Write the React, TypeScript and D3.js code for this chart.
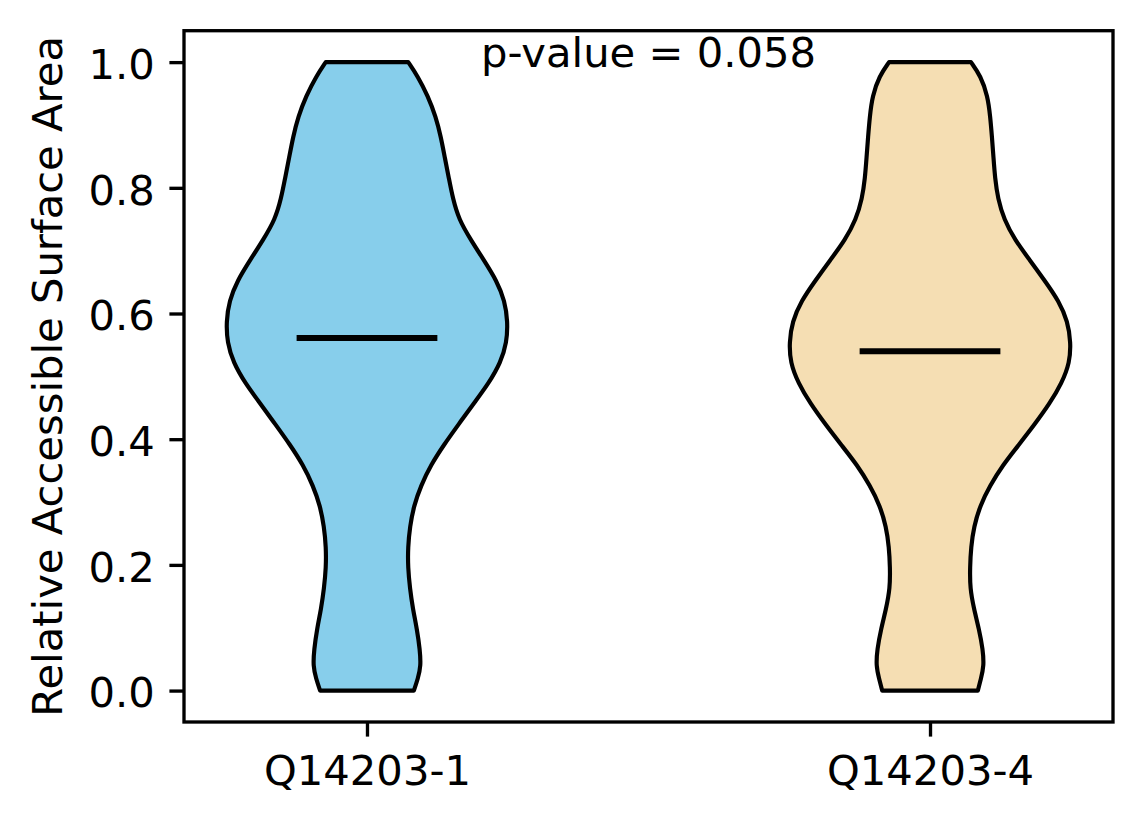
import { useEffect, useRef } from 'react';
import * as d3 from 'd3';

// categorias y posiciones en el eje x
const groups = ['Q14203-1', 'Q14203-4'];
const groupPositions = [1, 2];
const fillColors = ['#87CEEB', '#F5DEB3'];

// niveles de RSA donde se leyó la densidad (de arriba hacia abajo)
const levels = [
  1.0, 0.978, 0.946, 0.913, 0.881, 0.848, 0.815, 0.783, 0.75, 0.717, 0.685,
  0.652, 0.62, 0.587, 0.554, 0.522, 0.489, 0.457, 0.424, 0.391, 0.359, 0.326,
  0.294, 0.261, 0.228, 0.196, 0.163, 0.13, 0.098, 0.065, 0.039, 0.019, 0.0,
];

// densidad relativa (max = 1) de cada violín
const densityQ1 = [
  0.293, 0.359, 0.433, 0.489, 0.525, 0.553, 0.582, 0.61, 0.652, 0.738, 0.83,
  0.922, 0.979, 1.0, 0.993, 0.95, 0.865, 0.759, 0.652, 0.546, 0.454, 0.383,
  0.333, 0.305, 0.291, 0.291, 0.305, 0.326, 0.355, 0.376, 0.383, 0.362, 0.333,
];
const densityQ4 = [
  0.291, 0.36, 0.41, 0.428, 0.44, 0.451, 0.462, 0.482, 0.525, 0.603, 0.709,
  0.816, 0.915, 0.979, 1.0, 0.993, 0.936, 0.851, 0.745, 0.631, 0.518, 0.426,
  0.355, 0.312, 0.291, 0.284, 0.284, 0.312, 0.348, 0.376, 0.383, 0.362, 0.34,
];
const densities = [densityQ1, densityQ4];

// medianas
const medians = [0.561, 0.54];

const yTicks = [0, 0.2, 0.4, 0.6, 0.8, 1.0];
const pValueText = 'p-value = 0.058';
const yLabel = 'Relative Accessible Surface Area';

export default function App() {
  const chartRef = useRef<SVGSVGElement | null>(null);

  useEffect(() => {
    if (!chartRef.current) return;
    document.body.style.margin = '0';

    const W = 1144;
    const H = 824;
    const margin = { top: 30.7, right: 31, bottom: 102, left: 184 };
    const font = '"DejaVu Sans", sans-serif';
    const fs = 41.7;
    const lw = 3.33;

    const svg = d3.select(chartRef.current);
    svg.selectAll('*').remove();
    svg.attr('width', W).attr('height', H).attr('viewBox', `0 0 ${W} ${H}`);

    const x = d3.scaleLinear().domain([0.675, 2.325]).range([margin.left, W - margin.right]);
    const y = d3.scaleLinear().domain([-0.05, 1.05]).range([H - margin.bottom, margin.top]);
    // mitad del ancho máximo de un violín = 0.25 unidades del eje x
    const halfW = (d: number) => (x(d * 0.25) - x(0));

    svg.append('rect').attr('width', W).attr('height', H).attr('fill', 'white');

    // violines
    groups.forEach((g, i) => {
      const cx = x(groupPositions[i]);
      const pts = levels.map((v, j) => ({ v, d: densities[i][j] }));
      const area = d3
        .area<{ v: number; d: number }>()
        .y((p) => y(p.v))
        .x0((p) => cx - halfW(p.d))
        .x1((p) => cx + halfW(p.d))
        .curve(d3.curveBasis);
      svg
        .append('path')
        .datum(pts)
        .attr('d', area)
        .attr('fill', fillColors[i])
        .attr('stroke', 'black')
        .attr('stroke-width', 4.17)
        .attr('stroke-linejoin', 'round');

      // línea de la mediana
      svg
        .append('line')
        .attr('x1', x(groupPositions[i] - 0.125))
        .attr('x2', x(groupPositions[i] + 0.125))
        .attr('y1', y(medians[i]))
        .attr('y2', y(medians[i]))
        .attr('stroke', 'black')
        .attr('stroke-width', 6);
    });

    // eje Y
    const yAxis = svg
      .append('g')
      .attr('transform', `translate(${margin.left},0)`)
      .call(d3.axisLeft(y).tickValues(yTicks).tickFormat(d3.format('.1f')).tickSize(14.6).tickPadding(14.6));
    yAxis.select('.domain').remove();
    yAxis.selectAll('line').attr('stroke-width', lw);
    yAxis
      .selectAll('text')
      .attr('dy', '0.39em')
      .style('font-size', `${fs}px`)
      .style('font-family', font)
      .attr('fill', 'black');

    // eje X
    const xAxis = svg
      .append('g')
      .attr('transform', `translate(0,${H - margin.bottom})`)
      .call(
        d3
          .axisBottom(x)
          .tickValues(groupPositions)
          .tickFormat((_, i) => groups[i])
          .tickSize(14.6)
          .tickPadding(14.6)
      );
    xAxis.select('.domain').remove();
    xAxis.selectAll('line').attr('stroke-width', lw);
    xAxis
      .selectAll('text')
      .attr('dy', '0.81em')
      .style('font-size', `${fs}px`)
      .style('font-family', font)
      .attr('fill', 'black');

    // marco de los ejes
    svg
      .append('rect')
      .attr('x', margin.left)
      .attr('y', margin.top)
      .attr('width', W - margin.right - margin.left)
      .attr('height', H - margin.bottom - margin.top)
      .attr('fill', 'none')
      .attr('stroke', 'black')
      .attr('stroke-width', lw);

    // etiqueta del eje Y
    svg
      .append('text')
      .attr('transform', `translate(62,${(margin.top + H - margin.bottom) / 2}) rotate(-90)`)
      .attr('text-anchor', 'middle')
      .style('font-size', `${fs}px`)
      .style('font-family', font)
      .text(yLabel);

    // anotación del p-valor
    svg
      .append('text')
      .attr('x', x(1.5))
      .attr('y', y(0.993))
      .attr('text-anchor', 'middle')
      .style('font-size', `${fs}px`)
      .style('font-family', font)
      .text(pValueText);
  }, []);

  return <svg ref={chartRef} style={{ display: 'block' }}></svg>;
}
